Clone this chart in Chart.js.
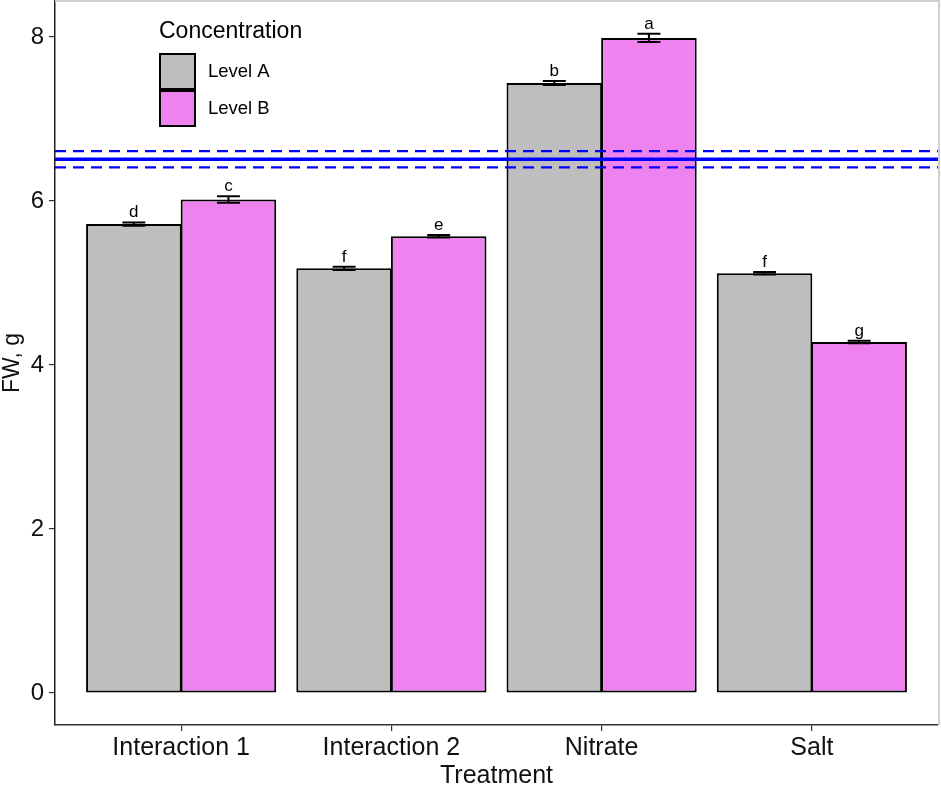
<!DOCTYPE html>
<html>
<head>
<meta charset="utf-8">
<script src="https://cdn.jsdelivr.net/npm/chart.js@4"></script>
<style>
  html, body { margin: 0; padding: 0; background: #fff; }
  #c { display: block; }
</style>
</head>
<body>
<canvas id="c" width="941" height="787"></canvas>
<script>
const categories = ["Interaction 1", "Interaction 2", "Nitrate", "Salt"];
const seriesNames = ["Level A", "Level B"];
const levelA = [5.72, 5.18, 7.44, 5.12];
const levelB = [6.02, 5.57, 7.99, 4.28];
const errA = [0.02, 0.02, 0.025, 0.015];
const errB = [0.04, 0.015, 0.05, 0.015];
const lettersA = ["d", "f", "b", "f"];
const lettersB = ["c", "e", "a", "g"];
const refMean = 6.51;
const refLow = 6.41;
const refHigh = 6.61;
const yTicks = [0, 2, 4, 6, 8];
const legendTitle = "Concentration";
const xTitle = "Treatment";
const yTitle = "FW, g";

const FONT = "'Liberation Sans', Arial, Helvetica, sans-serif";
const colA = "#BEBEBE";
const colB = "#EE82EE";
const xMin = -0.6, xMax = categories.length - 1 + 0.6;

function hline(y, width, dash) {
  return {
    type: "line",
    data: [{x: xMin, y: y}, {x: xMax, y: y}],
    borderColor: "#0000FF",
    borderWidth: width,
    borderDash: dash,
    pointRadius: 0,
    fill: false,
    order: 0
  };
}

const errorPlugin = {
  id: "errs",
  afterDatasetsDraw(chart) {
    const ctx = chart.ctx;
    const ys = chart.scales.y;
    const sets = [[levelA, errA, lettersA], [levelB, errB, lettersB]];
    ctx.save();
    sets.forEach((s, di) => {
      const meta = chart.getDatasetMeta(di);
      meta.data.forEach((bar, i) => {
        const cx = bar.x;
        const half = bar.width * 0.12;
        const top = ys.getPixelForValue(s[0][i] + s[1][i]);
        const bot = ys.getPixelForValue(s[0][i] - s[1][i]);
        ctx.strokeStyle = "#000";
        ctx.lineWidth = 2;
        ctx.beginPath();
        ctx.moveTo(cx - half, top); ctx.lineTo(cx + half, top);
        ctx.moveTo(cx - half, bot); ctx.lineTo(cx + half, bot);
        ctx.moveTo(cx, top); ctx.lineTo(cx, bot);
        ctx.stroke();
        ctx.fillStyle = "#000";
        ctx.font = "17px " + FONT;
        ctx.textAlign = "center";
        ctx.textBaseline = "alphabetic";
        ctx.fillText(s[2][i], cx, top - 5);
      });
    });
    ctx.restore();
  },
  afterDraw(chart) {
    const ctx = chart.ctx;
    ctx.save();
    ctx.strokeStyle = "#cfcfcf";
    ctx.lineWidth = 2;
    ctx.beginPath();
    ctx.moveTo(chart.chartArea.left, 1);
    ctx.lineTo(939, 1);
    ctx.lineTo(939, chart.chartArea.bottom);
    ctx.stroke();
    ctx.fillStyle = "#000";
    ctx.font = "23px " + FONT;
    ctx.textAlign = "left";
    ctx.textBaseline = "middle";
    ctx.fillText(legendTitle, 159, 32);
    const cols = [colA, colB];
    const tops = [54, 91];
    seriesNames.forEach((n, i) => {
      ctx.fillStyle = cols[i];
      ctx.fillRect(160, tops[i], 35, 35);
      ctx.strokeStyle = "#000";
      ctx.lineWidth = 2;
      ctx.strokeRect(160, tops[i], 35, 35);
      ctx.fillStyle = "#000";
      ctx.font = "18.5px " + FONT;
      ctx.fillText(n, 208, tops[i] + 18);
    });
    ctx.restore();
  }
};

new Chart(document.getElementById("c"), {
  type: "bar",
  data: {
    datasets: [
      {
        label: seriesNames[0],
        data: levelA.map((v, i) => ({x: i, y: v})),
        backgroundColor: colA,
        borderColor: "#000",
        borderWidth: 2,
        borderSkipped: false,
        categoryPercentage: 0.9,
        barPercentage: 1.01,
        order: 1
      },
      {
        label: seriesNames[1],
        data: levelB.map((v, i) => ({x: i, y: v})),
        backgroundColor: colB,
        borderColor: "#000",
        borderWidth: 2,
        borderSkipped: false,
        categoryPercentage: 0.9,
        barPercentage: 1.01,
        order: 1
      },
      hline(refHigh, 2.2, [11, 7]),
      hline(refMean, 3.6, []),
      hline(refLow, 2.2, [11, 7])
    ]
  },
  options: {
    responsive: false,
    animation: false,
    devicePixelRatio: 1,
    layout: { padding: { top: 1, right: 3, bottom: 0, left: 0 } },
    plugins: { legend: { display: false }, tooltip: { enabled: false } },
    scales: {
      x: {
        type: "linear",
        min: xMin,
        max: xMax,
        offset: false,
        afterBuildTicks: (s) => { s.ticks = categories.map((c, i) => ({value: i})); },
        afterFit: (s) => { s.height = 62; s.paddingLeft = 0; s.paddingRight = 0; },
        ticks: {
          callback: (v) => categories[v],
          color: "#111",
          font: { family: FONT, size: 25 },
          padding: 2,
          maxRotation: 0,
          autoSkip: false
        },
        grid: { display: true, offset: false, drawOnChartArea: false, drawTicks: true, tickLength: 6, color: "#333", lineWidth: 1.2 },
        border: { display: true, color: "#333", width: 1.5 },
        title: { display: true, text: xTitle, color: "#111", font: { family: FONT, size: 25, lineHeight: 0.85 }, padding: 0 }
      },
      y: {
        min: -0.39,
        max: 8.44,
        afterBuildTicks: (s) => { s.ticks = yTicks.map(v => ({value: v})); },
        afterFit: (s) => { s.width = 55; s.paddingTop = 0; s.paddingBottom = 0; },
        ticks: {
          color: "#111",
          font: { family: FONT, size: 24 },
          padding: 5
        },
        grid: { display: true, drawOnChartArea: false, drawTicks: true, tickLength: 6, color: "#333", lineWidth: 1.2 },
        border: { display: true, color: "#222", width: 1.5 },
        title: { display: true, text: yTitle, color: "#111", font: { family: FONT, size: 23, lineHeight: 1.1 }, padding: 0 }
      }
    }
  },
  plugins: [errorPlugin]
});
</script>
</body>
</html>
